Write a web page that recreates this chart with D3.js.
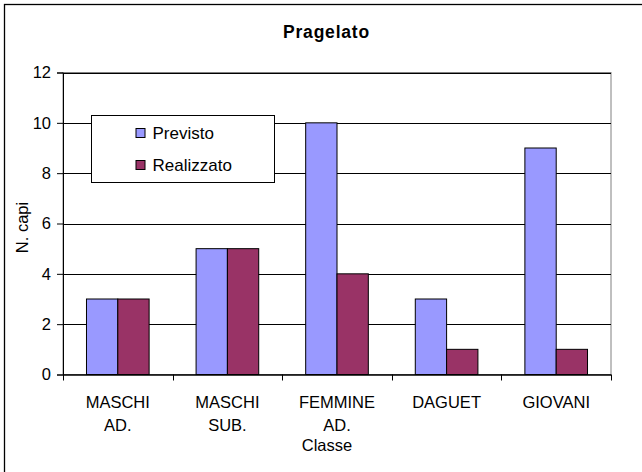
<!DOCTYPE html>
<html>
<head>
<meta charset="utf-8">
<script src="https://cdn.jsdelivr.net/npm/d3@7/dist/d3.min.js"></script>
<style>
html,body{margin:0;padding:0;background:#fff;}
svg{display:block;}
text{font-family:"Liberation Sans",Arial,sans-serif;fill:#000;}
</style>
</head>
<body>
<svg id="chart" width="642" height="472"></svg>
<script>
const categories = [["MASCHI","AD."],["MASCHI","SUB."],["FEMMINE","AD."],["DAGUET"],["GIOVANI"]];
const seriesNames = ["Previsto","Realizzato"];
const previsto = [3,5,10,3,9];
const realizzato = [3,5,4,1,1];
const yTicks = [0,2,4,6,8,10,12];
const colors = ["#9999FF","#993366"];

(function(){
const svg = d3.select("#chart");
const pLeft = 63, pRight = 611, pTop = 72.5, pBottom = 374.5;
const fs = 16.5;

// outer frame
svg.append("rect").attr("x",4.5).attr("y",4.5).attr("width",700).attr("height",600)
  .attr("fill","#fff").attr("stroke","#000").attr("stroke-width",1.3);

const keys = categories.map((c,i)=>i);
const x = d3.scaleBand().domain(keys).range([pLeft,pRight]).paddingInner(0).paddingOuter(0);
const x1 = d3.scaleBand().domain(seriesNames).range([0,x.bandwidth()]).paddingInner(0).paddingOuter(0.75);
const y = d3.scaleLinear().domain([0,12]).range([pBottom,pTop]);

// plot area
svg.append("rect").attr("x",pLeft).attr("y",pTop).attr("width",pRight-pLeft).attr("height",pBottom-pTop)
  .attr("fill","#fff").attr("stroke","#808080").attr("stroke-width",1);

// gridlines
svg.append("g").selectAll("line").data(yTicks.filter(d=>d>0)).join("line")
  .attr("x1",pLeft).attr("x2",pRight)
  .attr("y1",d=>Math.round(y(d))+0.5).attr("y2",d=>Math.round(y(d))+0.5)
  .attr("stroke","#000").attr("stroke-width",1);

// bars
const g = svg.append("g");
keys.forEach(i=>{
  const vals = [previsto[i],realizzato[i]];
  seriesNames.forEach((s,j)=>{
    g.append("rect")
      .attr("x",x(i)+x1(s))
      .attr("y",y(vals[j]))
      .attr("width",x1.bandwidth())
      .attr("height",y(0)-y(vals[j]))
      .attr("fill",colors[j]).attr("stroke","#000").attr("stroke-width",1);
  });
});

// y axis
const yAxis = d3.axisLeft(y).tickValues(yTicks).tickSize(6).tickPadding(6).tickFormat(d3.format("d"));
const ya = svg.append("g").attr("transform",`translate(${pLeft},0)`).call(yAxis);
ya.selectAll("text").attr("font-size",fs).style("font-family","Liberation Sans, Arial, sans-serif");
ya.selectAll("line,path").attr("stroke","#000");

// x axis
const xTickPos = d3.range(categories.length+1).map(i=>pLeft + i*x.step());
svg.append("line").attr("x1",pLeft).attr("x2",pRight).attr("y1",pBottom+0.5).attr("y2",pBottom+0.5).attr("stroke","#000").attr("stroke-width",1.3);
svg.append("g").selectAll("line").data(xTickPos).join("line")
  .attr("x1",d=>Math.round(d)+0.5).attr("x2",d=>Math.round(d)+0.5)
  .attr("y1",pBottom).attr("y2",pBottom+6).attr("stroke","#000");
const xl = svg.append("g");
categories.forEach((c,i)=>{
  c.forEach((line,k)=>{
    xl.append("text").attr("x",x(i)+x.bandwidth()/2).attr("y",407.5+k*23.3)
      .attr("text-anchor","middle").attr("font-size",fs).text(line);
  });
});

// titles
svg.append("text").attr("x",326.5).attr("y",37.7).attr("text-anchor","middle")
  .attr("font-size",17.5).attr("font-weight","bold").attr("letter-spacing",0.8).text("Pragelato");
svg.append("text").attr("x",327).attr("y",451).attr("text-anchor","middle")
  .attr("font-size",fs).text("Classe");
svg.append("text").attr("transform",`translate(28,${(pTop+pBottom)/2+4}) rotate(-90)`)
  .attr("text-anchor","middle").attr("font-size",fs).text("N. capi");

// legend
const lg = svg.append("g");
lg.append("rect").attr("x",91.5).attr("y",115.5).attr("width",183).attr("height",67)
  .attr("fill","#fff").attr("stroke","#000").attr("stroke-width",1);
seriesNames.forEach((s,j)=>{
  const yy = 128 + j*32;
  lg.append("rect").attr("x",136).attr("y",yy+0.5).attr("width",9).attr("height",9)
    .attr("fill",colors[j]).attr("stroke","#000").attr("stroke-width",1);
  lg.append("text").attr("x",152.5).attr("y",yy+10.5).attr("font-size",17).text(s);
});
})();
</script>
</body>
</html>
